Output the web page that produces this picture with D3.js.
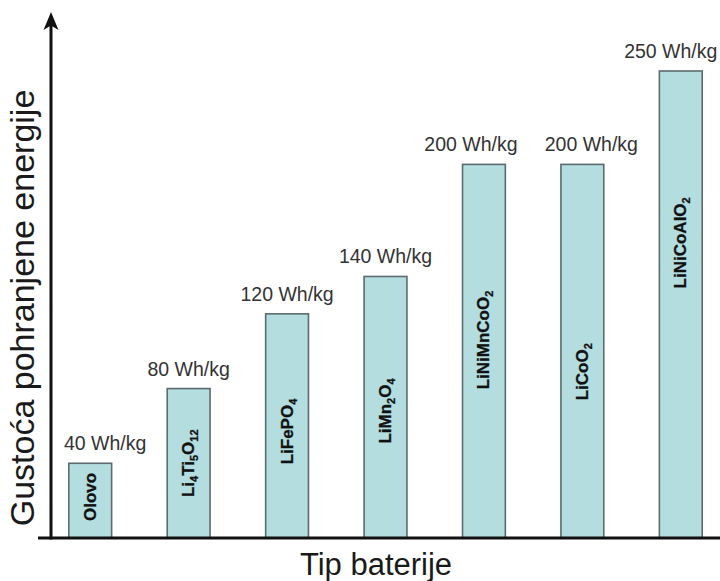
<!DOCTYPE html>
<html><head><meta charset="utf-8">
<script src="https://cdn.jsdelivr.net/npm/d3@7"></script>
<style>body{margin:0;background:#fff}svg{display:block}</style>
</head><body>
<svg id="chart" width="720" height="581"></svg>
<script>
// ---- data ----
const categories = ["Olovo", "Li4Ti5O12", "LiFePO4", "LiMn2O4", "LiNiMnCoO2", "LiCoO2", "LiNiCoAlO2"];
const values = [40, 80, 120, 140, 200, 200, 250];
const valueLabels = ["40 Wh/kg", "80 Wh/kg", "120 Wh/kg", "140 Wh/kg", "200 Wh/kg", "200 Wh/kg", "250 Wh/kg"];
// chemical formula pieces: [text, isSubscript]
const formulas = [
  [["Olovo", 0]],
  [["Li", 0], ["4", 1], ["Ti", 0], ["5", 1], ["O", 0], ["12", 1]],
  [["LiFePO", 0], ["4", 1]],
  [["LiMn", 0], ["2", 1], ["O", 0], ["4", 1]],
  [["LiNiMnCoO", 0], ["2", 1]],
  [["LiCoO", 0], ["2", 1]],
  [["LiNiCoAlO", 0], ["2", 1]]
];
const xTitle = "Tip baterije";
const yTitle = "Gustoća pohranjene energije";

// ---- layout ----
const labelMid = [22, 40, 57, 68, 106, 89, 158];      // in-bar label centre (value units)
const valueLabelShift = [15, 0, 0, 0, -13, 9, -10];    // px nudges of value labels

const svg = d3.select("#chart");
const x = d3.scaleBand().domain(categories).range([41, 730]).paddingInner(0.565).paddingOuter(0.2825);
const y = d3.scaleLinear().domain([0, 250]).range([538, 71]);

const rows = categories.map((c, i) => ({c, v: values[i], lab: valueLabels[i], f: formulas[i], mid: labelMid[i], sh: valueLabelShift[i]}));

// bars
svg.append("g").selectAll("rect").data(rows).join("rect")
  .attr("x", d => x(d.c)).attr("width", x.bandwidth())
  .attr("y", d => y(d.v)).attr("height", d => y(0) - y(d.v))
  .attr("fill", "#b4dde0").attr("stroke", "#5b6b6e").attr("stroke-width", 1.6);

// value labels
svg.append("g").selectAll("text").data(rows).join("text")
  .attr("x", d => x(d.c) + x.bandwidth() / 2 + d.sh)
  .attr("y", d => y(d.v) - 13)
  .attr("text-anchor", "middle")
  .attr("font-family", "Liberation Sans, Arial, sans-serif")
  .attr("font-size", 19.5)
  .attr("fill", "#333")
  .text(d => d.lab);

// in-bar formula labels
const fl = svg.append("g").selectAll("text").data(rows).join("text")
  .attr("transform", d => `translate(${x(d.c) + x.bandwidth() / 2 + 5.5},${y(d.mid)}) rotate(-90)`)
  .attr("text-anchor", "middle")
  .attr("font-family", "Liberation Sans, Arial, sans-serif")
  .attr("font-weight", "bold")
  .attr("font-size", 17)
  .attr("fill", "#111")
  .attr("stroke", "#111").attr("stroke-width", 0.3);
fl.each(function(d) {
  const t = d3.select(this);
  d.f.forEach(([s, sub]) => {
    t.append("tspan").text(s)
      .attr("font-size", sub ? 11 : 17)
      .attr("baseline-shift", sub ? "-4" : null);
  });
});

// x axis (domain line only)
const xAxis = svg.append("g").attr("transform", `translate(0,${y(0)})`)
  .call(d3.axisBottom(x).tickSize(0).tickFormat(""));
xAxis.select(".domain").attr("d", "M38,0H720").attr("stroke", "#111").attr("stroke-width", 3);

// y axis line with arrow
const yAxis = svg.append("g").attr("transform", "translate(51,0)")
  .call(d3.axisLeft(y).tickValues([]).tickSizeOuter(0));
yAxis.select(".domain").attr("d", `M0,${y(0) + 1.5}V22`).attr("stroke", "#111").attr("stroke-width", 3);
svg.append("path").attr("d", "M51,12 L43.5,30 L51,25.5 L58.5,30 Z").attr("fill", "#111");

// titles
svg.append("text").attr("x", 376).attr("y", 575).attr("text-anchor", "middle")
  .attr("font-family", "Liberation Sans, Arial, sans-serif").attr("font-size", 31).attr("fill", "#1a1a1a")
  .text(xTitle);
svg.append("text").attr("transform", "translate(34,308) rotate(-90)").attr("text-anchor", "middle")
  .attr("font-family", "Liberation Sans, Arial, sans-serif").attr("font-size", 34).attr("fill", "#1a1a1a")
  .text(yTitle);
</script>
</body></html>
